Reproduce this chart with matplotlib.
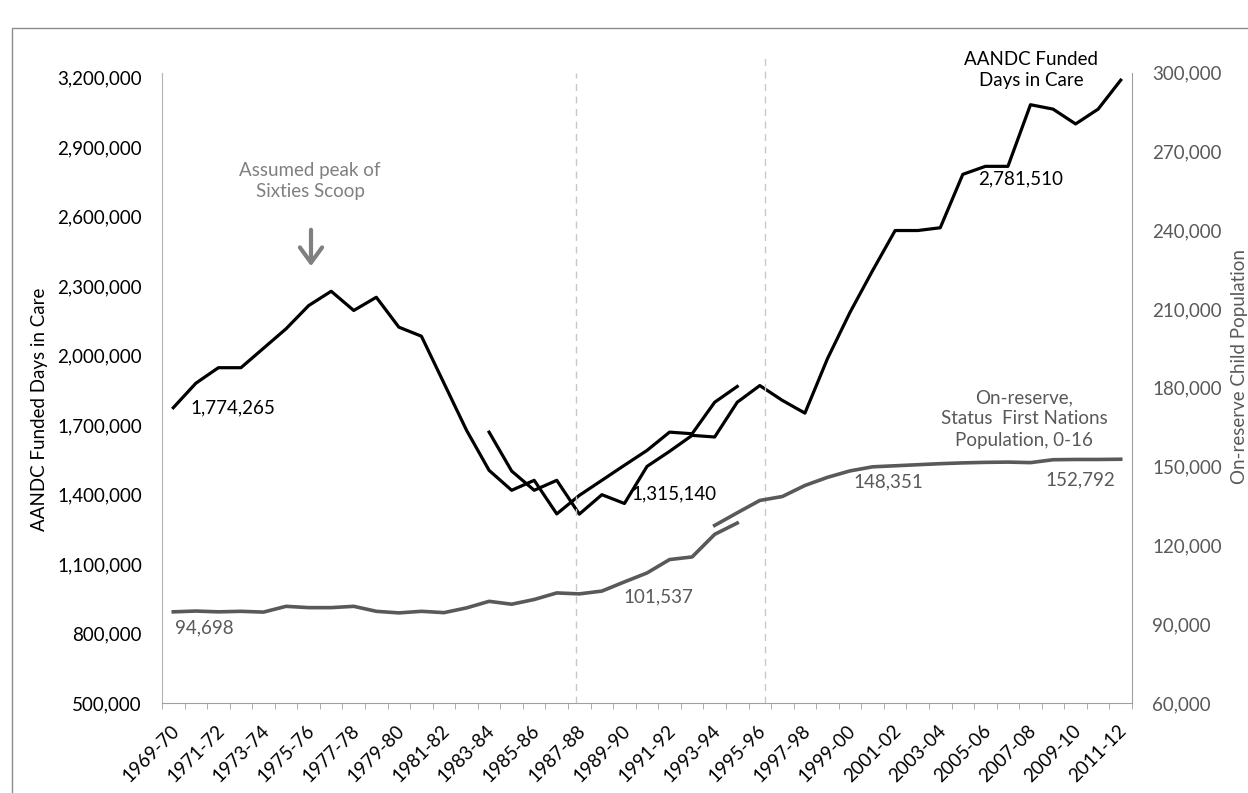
import numpy as np
import matplotlib
matplotlib.use("Agg")
import matplotlib.pyplot as plt
import matplotlib.transforms as mtransforms
from matplotlib.patches import Rectangle
from matplotlib.ticker import FuncFormatter

plt.rcParams['font.family'] = ['Lato', 'DejaVu Sans']

# Fiscal years on the category axis
years = [f"{y}-{(y + 1) % 100:02d}" for y in range(1969, 2012)]

# AANDC funded days in care, older series (1969-70 to 1994-95)
days_old = [1774265, 1880000, 1947000, 1947000, 2031000, 2115000, 2215000,
            2277000, 2194000, 2251000, 2122000, 2083000, 1880000, 1677000,
            1504000, 1418000, 1461000, 1316000, 1396000, 1461000, 1526000,
            1590000, 1669000, 1662000, 1798000, 1866000]
# newer series (1983-84 to 2011-12)
days_new = [1669000, 1501000, 1418000, 1461000, 1315140, 1399000, 1361000,
            1521000, 1586000, 1655000, 1648000, 1798000, 1870000, 1806000,
            1751000, 1986000, 2186000, 2366000, 2539000, 2539000, 2551000,
            2781510, 2816000, 2816000, 3082000, 3063000, 2999000, 3063000,
            3188000]

# On-reserve status First Nations population aged 0-16
pop_old = [94698, 95000, 94700, 94900, 94600, 96800, 96300, 96300, 96800,
           94900, 94300, 94900, 94400, 96200, 98700, 97600, 99400, 101900,
           101537, 102600, 106100, 109500, 114600, 115600, 124200, 128500]
pop_new = [127600, 132400, 137100, 138600, 142800, 145900, 148351, 149900,
           150300, 150700, 151100, 151400, 151600, 151700, 151500, 152600,
           152700, 152700, 152792]

x = np.arange(len(years))
x_days_old = x[:len(days_old)]
x_days_new = x[years.index("1983-84"):]
x_pop_old = x[:len(pop_old)]
x_pop_new = x[years.index("1993-94"):]

W, H = 1248, 793
fig = plt.figure(figsize=(W / 100, H / 100), dpi=100)
ax = fig.add_axes([162 / W, 90 / H, 970 / W, 630.5 / H])
ax2 = ax.twinx()

GREY = '#595959'

ax.plot(x_days_old, days_old, color='black', lw=2.3)
ax.plot(x_days_new, days_new, color='black', lw=2.3)
ax2.plot(x_pop_old, pop_old, color=GREY, lw=2.6)
ax2.plot(x_pop_new, pop_new, color=GREY, lw=2.6)

ax.set_xlim(-0.5, len(years) - 0.5)
ax.set_ylim(500000, 3221000)
ax.set_yticks(np.arange(500000, 3200001, 300000))
ax2.set_ylim(60000, 300000)
ax2.set_yticks(np.arange(60000, 300001, 30000))
fmt = FuncFormatter(lambda v, p: f"{v:,.0f}")
ax.yaxis.set_major_formatter(fmt)
ax2.yaxis.set_major_formatter(fmt)

for a in (ax, ax2):
    a.spines['top'].set_visible(False)
ax.spines['right'].set_visible(False)
ax2.spines['left'].set_visible(False)
ax2.spines['bottom'].set_visible(False)
ax.spines['left'].set_color('#b3b3b3')
ax2.spines['right'].set_color('#a0a0a0')
ax.spines['bottom'].set_color('#a0a0a0')

ax.tick_params(axis='y', length=0, pad=14.5, labelsize=13.5, labelcolor='black')
ax2.tick_params(axis='y', length=0, pad=14.5, labelsize=13.5, labelcolor=GREY)

# category labels every other year, tick marks between categories
ax.set_xticks(x[::2])
ax.set_xticklabels(years[::2], rotation=45, ha='right', va='center',
                   rotation_mode='anchor')
ax.set_xticks(np.arange(-0.5, len(years), 1), minor=True)
ax.tick_params(axis='x', which='major', length=0, pad=18, labelsize=13.5)
ax.tick_params(axis='x', which='minor', length=4, color='#a0a0a0')
shift = mtransforms.ScaledTranslation(3 / 100, 0, fig.dpi_scale_trans)
for lab in ax.get_xticklabels():
    lab.set_transform(lab.get_transform() + shift)

# reference lines
ax.axvline(17.87, color='#c8c8c8', lw=1, ls=(0, (5, 4)))
ax.axvline(26.22, ymax=1.025, color='#c8c8c8', lw=1, ls=(0, (5, 4)), clip_on=False)


def fp(xp, yp):
    return xp / W, 1 - yp / H


fig.text(*fp(40, 409), "AANDC Funded Days in Care", rotation=90, ha='center',
         va='center', fontsize=13.5, color='black')
fig.text(*fp(1240, 367), "On-reserve Child Population", rotation=90, ha='center',
         va='center', fontsize=13.5, color=GREY)

fig.text(*fp(310, 181), "Assumed peak of\nSixties Scoop", ha='center', va='center',
         fontsize=13.5, color='#808080', linespacing=1.3)
ax.annotate('', xy=fp(311, 269), xytext=fp(311, 227), xycoords='figure fraction',
            textcoords='figure fraction',
            arrowprops=dict(arrowstyle='->,head_length=0.55,head_width=0.4',
                            color='#808080', lw=3, mutation_scale=20))
fig.text(*fp(1031, 70), "AANDC Funded\nDays in Care", ha='center', va='center',
         fontsize=13.5, color='black', linespacing=1.3)
fig.text(*fp(1024, 419), "On-reserve,\nStatus  First Nations\nPopulation, 0-16",
         ha='center', va='center', fontsize=13.5, color=GREY, linespacing=1.3)

# data labels
lab_kw = dict(textcoords='offset pixels', fontsize=13.5, va='center')
ax.annotate(f"{days_old[0]:,}", (x_days_old[0], days_old[0]), xytext=(17, 0),
            ha='left', color='black', **lab_kw)
i = days_new.index(1315140)
ax.annotate(f"{days_new[i]:,}", (x_days_new[i], days_new[i]), xytext=(52, 20),
            ha='left', color='black', **lab_kw)
i = days_new.index(2781510)
ax.annotate(f"{days_new[i]:,}", (x_days_new[i], days_new[i]), xytext=(15, -5),
            ha='left', color='black', **lab_kw)
ax2.annotate(f"{pop_old[0]:,}", (x_pop_old[0], pop_old[0]), xytext=(2, -16),
             ha='left', color=GREY, **lab_kw)
i = pop_old.index(101537)
ax2.annotate(f"{pop_old[i]:,}", (x_pop_old[i], pop_old[i]), xytext=(44, -3),
             ha='left', color=GREY, **lab_kw)
i = pop_new.index(148351)
ax2.annotate(f"{pop_new[i]:,}", (x_pop_new[i], pop_new[i]), xytext=(3, -11),
             ha='left', color=GREY, **lab_kw)
ax2.annotate(f"{pop_new[-1]:,}", (x_pop_new[-1], pop_new[-1]), xytext=(-6, -21),
             ha='right', color=GREY, **lab_kw)

# chart frame
fig.patches.append(Rectangle((12 / W, -0.05), 1.1, 1.05 - 28 / H,
                             transform=fig.transFigure, fill=False,
                             edgecolor='#8c8c8c', lw=1))

fig.savefig("out.png", dpi=100)
